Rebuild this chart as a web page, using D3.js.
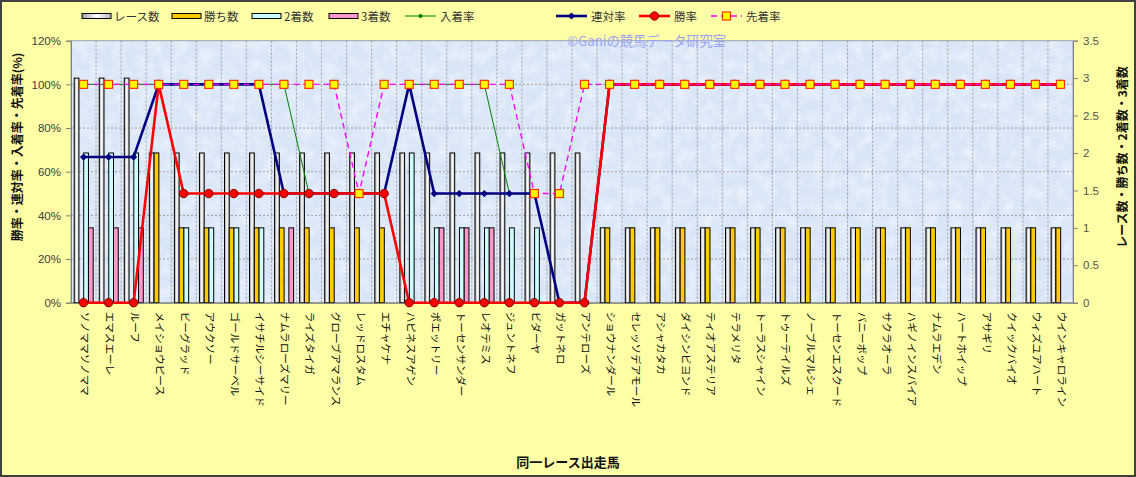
<!DOCTYPE html>
<html><head><meta charset="utf-8">
<script src="https://cdn.jsdelivr.net/npm/d3@7/dist/d3.min.js"></script>
<style>
html,body{margin:0;padding:0;background:#fff;}
svg{display:block;}
text{font-family:"Noto Sans CJK JP","Noto Sans",sans-serif;}
</style></head>
<body>
<svg id="chart" width="1136" height="477"></svg>
<script>
// ---- data ----
const categories = ["ソノママソノママ","エマスエーレ","ルーフ","メイショウピース","ビーグラッド","アウクソー","ゴールドサーベル","イサチルシーサイド","ナムラローズマリー","ライズタイガ","グローブアマランス","レッドロスタム","エチャケナ","ハピネスアゲン","ポエットリー","トーセンサンダー","レオテミス","ジュントネフ","ビダーヤ","ガットネロ","アンテローズ","ショウナンダール","セレッソデアモール","アシャカタカ","ダイシンビヨンド","ティオアステリア","テラメリタ","トーラスシャイン","トゥーテイルズ","ノーブルマルシェ","トーセンエスクード","バニーボップ","サクラオーラ","ハギノインスパイア","ナムラエデン","ハートホイップ","アサギリ","クイックバイオ","ウィズユアハート","ウインキャロライン"];
const raceCount = [3,3,3,2,2,2,2,2,2,2,2,2,2,2,2,2,2,2,2,2,2,1,1,1,1,1,1,1,1,1,1,1,1,1,1,1,1,1,1,1];
const wins      = [0,0,0,2,1,1,1,1,1,1,1,1,1,0,0,0,0,0,0,0,0,1,1,1,1,1,1,1,1,1,1,1,1,1,1,1,1,1,1,1];
const seconds   = [2,2,2,0,1,1,1,1,0,0,0,0,0,2,1,1,1,1,1,0,0,0,0,0,0,0,0,0,0,0,0,0,0,0,0,0,0,0,0,0];
const thirds    = [1,1,1,0,0,0,0,0,1,0,0,0,0,0,1,1,1,0,0,0,0,0,0,0,0,0,0,0,0,0,0,0,0,0,0,0,0,0,0,0];
const nyuchakuRate = [100,100,100,100,100,100,100,100,100,50,50,50,50,100,100,100,100,50,50,0,0,100,100,100,100,100,100,100,100,100,100,100,100,100,100,100,100,100,100,100];
const rentaiRate   = [66.7,66.7,66.7,100,100,100,100,100,50,50,50,50,50,100,50,50,50,50,50,0,0,100,100,100,100,100,100,100,100,100,100,100,100,100,100,100,100,100,100,100];
const winRate      = [0,0,0,100,50,50,50,50,50,50,50,50,50,0,0,0,0,0,0,0,0,100,100,100,100,100,100,100,100,100,100,100,100,100,100,100,100,100,100,100];
const senchakuRate = [100,100,100,100,100,100,100,100,100,100,100,50,100,100,100,100,100,100,50,50,100,100,100,100,100,100,100,100,100,100,100,100,100,100,100,100,100,100,100,100];
const leftTicks  = [0,20,40,60,80,100,120];
const rightTicks = [0,0.5,1,1.5,2,2.5,3,3.5];
const barSeries  = ["レース数","勝ち数","2着数","3着数"];
const lineSeries = ["入着率","連対率","勝率","先着率"];

// ---- layout ----
const W = 1136, H = 477;
const plot = {l:71, r:1073, t:40.7, b:302.7};
const svg = d3.select("#chart");
const defs = svg.append("defs");

const grad = defs.append("linearGradient").attr("id","raceGrad").attr("x1","0").attr("x2","1").attr("y1","0").attr("y2","0");
grad.append("stop").attr("offset","0").attr("stop-color","#9a9a9a");
grad.append("stop").attr("offset","0.5").attr("stop-color","#ffffff");
grad.append("stop").attr("offset","1").attr("stop-color","#b8b8b8");

const filt = defs.append("filter").attr("id","tex").attr("x","0").attr("y","0").attr("width","1").attr("height","1");
filt.append("feTurbulence").attr("type","fractalNoise").attr("baseFrequency","0.08").attr("numOctaves","2").attr("seed","3").attr("result","n");
filt.append("feColorMatrix").attr("in","n").attr("type","matrix")
  .attr("values","0 0 0 0 1  0 0 0 0 1  0 0 0 0 1  0 0 0 -1.6 1.0").attr("result","a");
filt.append("feComposite").attr("in","a").attr("in2","SourceGraphic").attr("operator","in");

// background
svg.append("rect").attr("x",1).attr("y",1).attr("width",W-2).attr("height",H-2)
  .attr("fill","#ffffa6").attr("stroke","#404040").attr("stroke-width",2);

// plot area
svg.append("rect").attr("x",plot.l).attr("y",plot.t).attr("width",plot.r-plot.l).attr("height",plot.b-plot.t)
  .attr("fill","#d9e6f7");
svg.append("rect").attr("x",plot.l).attr("y",plot.t).attr("width",plot.r-plot.l).attr("height",plot.b-plot.t)
  .attr("fill","#d9e6f7").attr("filter","url(#tex)").attr("opacity",0.55);

const idx = categories.map((d,i)=>i);
const x = d3.scaleBand().domain(idx).range([plot.l, plot.r]).padding(0);
const xIn = d3.scaleBand().domain(barSeries).range([3.2, 22.2]).padding(0);
const yL = d3.scaleLinear().domain([0,120]).range([plot.b, plot.t]);
const yR = d3.scaleLinear().domain([0,3.5]).range([plot.b, plot.t]);
const cx = i => x(i) + x.bandwidth()/2;

// gridlines
const grid = svg.append("g").attr("stroke","#8a8a8a").attr("stroke-width",0.8).attr("stroke-dasharray","2,2");
leftTicks.filter(t=>t>0 && t<120).forEach(t=>{
  grid.append("line").attr("x1",plot.l).attr("x2",plot.r).attr("y1",yL(t)).attr("y2",yL(t));
});
idx.slice(1).forEach(i=>{
  grid.append("line").attr("x1",x(i)).attr("x2",x(i)).attr("y1",plot.t).attr("y2",plot.b);
});
// plot border
svg.append("rect").attr("x",plot.l).attr("y",plot.t).attr("width",plot.r-plot.l).attr("height",plot.b-plot.t)
  .attr("fill","none").attr("stroke","#9aa4b0").attr("stroke-width",1);

// bars
const barFill = {"レース数":"url(#raceGrad)","勝ち数":"#ffcc00","2着数":"#ccffff","3着数":"#ff99cc"};
const barData = {"レース数":raceCount,"勝ち数":wins,"2着数":seconds,"3着数":thirds};
const gb = svg.append("g");
barSeries.forEach(s=>{
  gb.selectAll(null).data(barData[s].map((v,i)=>({v,i})).filter(d=>d.v>0)).enter().append("rect")
    .attr("x",d=>x(d.i)+xIn(s)).attr("width",xIn.bandwidth())
    .attr("y",d=>yR(d.v)).attr("height",d=>yR(0)-yR(d.v))
    .attr("fill",barFill[s]).attr("stroke","#000").attr("stroke-width",1);
});

// axes
const axL = d3.axisLeft(yL).tickValues(leftTicks).tickSize(5).tickFormat(d=>d+"%");
const gL = svg.append("g").attr("transform",`translate(${plot.l},0)`).call(axL);
gL.select(".domain").attr("stroke","#808080");
gL.selectAll(".tick line").attr("stroke","#808080");
gL.selectAll(".tick text").attr("fill","#3c3c3c").attr("font-size","11.5px").attr("x",-10)
  .style("font-family","'Liberation Sans',Arial,sans-serif");

const axR = d3.axisRight(yR).tickValues(rightTicks).tickSize(5).tickFormat(d=>String(d));
const gR = svg.append("g").attr("transform",`translate(${plot.r},0)`).call(axR);
gR.select(".domain").attr("stroke","#808080");
gR.selectAll(".tick line").attr("stroke","#808080");
gR.selectAll(".tick text").attr("fill","#555").attr("font-size","11.5px").attr("x",10)
  .style("font-family","'Liberation Sans',Arial,sans-serif");

const axB = d3.axisBottom(x).tickSize(0).tickFormat(i=>categories[i]);
const gB = svg.append("g").attr("transform",`translate(0,${plot.b})`).call(axB);
gB.select(".domain").attr("stroke","#707070");
gB.selectAll(".tick text").attr("fill","#111").attr("font-size","10.6px")
  .attr("text-anchor","start").attr("dy",null).attr("y",null).attr("x",null)
  .attr("dominant-baseline","central")
  .attr("transform","translate(2,9) rotate(90)");

// lines
const lineDef = [
  {name:"入着率", data:nyuchakuRate, color:"#008000", w:1, dash:null, marker:"diamondS"},
  {name:"連対率", data:rentaiRate, color:"#000080", w:2.6, dash:null, marker:"diamond"},
  {name:"勝率", data:winRate, color:"#ff0000", w:2.6, dash:null, marker:"circle"},
  {name:"先着率", data:senchakuRate, color:"#ff00ff", w:1.4, dash:"6,4", marker:"square"}
];
const line = d3.line().x(d=>cx(d.i)).y(d=>yL(d.v));
function drawMarker(g, type, px, py){
  if(type==="circle"){
    g.append("circle").attr("cx",px).attr("cy",py).attr("r",4.2).attr("fill","#ff0000").attr("stroke","#800000").attr("stroke-width",1);
  } else if(type==="diamond"){
    const s=3.6;
    g.append("path").attr("d",`M${px},${py-s}L${px+s},${py}L${px},${py+s}L${px-s},${py}Z`).attr("fill","#000080");
  } else if(type==="diamondS"){
    const s=2.6;
    g.append("path").attr("d",`M${px},${py-s}L${px+s},${py}L${px},${py+s}L${px-s},${py}Z`).attr("fill","#008000");
  } else if(type==="square"){
    g.append("rect").attr("x",px-4).attr("y",py-4).attr("width",8).attr("height",8).attr("fill","#ffff00").attr("stroke","#ff3300").attr("stroke-width",1.2);
  }
}
lineDef.forEach(L=>{
  const g = svg.append("g");
  const pts = L.data.map((v,i)=>({v,i}));
  g.append("path").attr("d",line(pts)).attr("fill","none").attr("stroke",L.color).attr("stroke-width",L.w)
    .attr("stroke-dasharray",L.dash).attr("stroke-linejoin","round");
  pts.forEach(p=>drawMarker(g, L.marker, cx(p.i), yL(p.v)));
});

// watermark
svg.append("text").attr("x",567).attr("y",46).attr("fill","#9aa2f2").attr("font-size","13.3px")
  .text("©Ganiの競馬データ研究室");

// axis titles
svg.append("text").attr("transform","translate(22,147) rotate(-90)").attr("text-anchor","middle")
  .attr("font-size","12px").attr("font-weight","bold").attr("fill","#111").text("勝率・連対率・入着率・先着率(%)");
svg.append("text").attr("transform","translate(1127,157) rotate(-90)").attr("text-anchor","middle")
  .attr("font-size","12px").attr("font-weight","bold").attr("fill","#111").text("レース数・勝ち数・2着数・3着数");
svg.append("text").attr("x",568).attr("y",467).attr("text-anchor","middle")
  .attr("font-size","13px").attr("font-weight","bold").attr("fill","#111").text("同一レース出走馬");

// legend
const lg = svg.append("g");
const legX = [82,172,252,329,405,556,639,711];
const legY = 16;
barSeries.forEach((s,k)=>{
  lg.append("rect").attr("x",legX[k]).attr("y",legY-2.5).attr("width",29).attr("height",5)
    .attr("fill",barFill[s]).attr("stroke","#000").attr("stroke-width",1);
  lg.append("text").attr("x",legX[k]+32).attr("y",legY).attr("dominant-baseline","central")
    .attr("font-size","11.5px").attr("fill","#333").text(s);
});
lineDef.forEach((L,k)=>{
  const x0 = legX[4+k];
  lg.append("line").attr("x1",x0).attr("x2",x0+31).attr("y1",legY).attr("y2",legY)
    .attr("stroke",L.color).attr("stroke-width",L.w).attr("stroke-dasharray",L.dash);
  drawMarker(lg, L.marker, x0+15.5, legY);
  lg.append("text").attr("x",x0+35).attr("y",legY).attr("dominant-baseline","central")
    .attr("font-size","11.5px").attr("fill","#333").text(L.name);
});
</script>
</body></html>
